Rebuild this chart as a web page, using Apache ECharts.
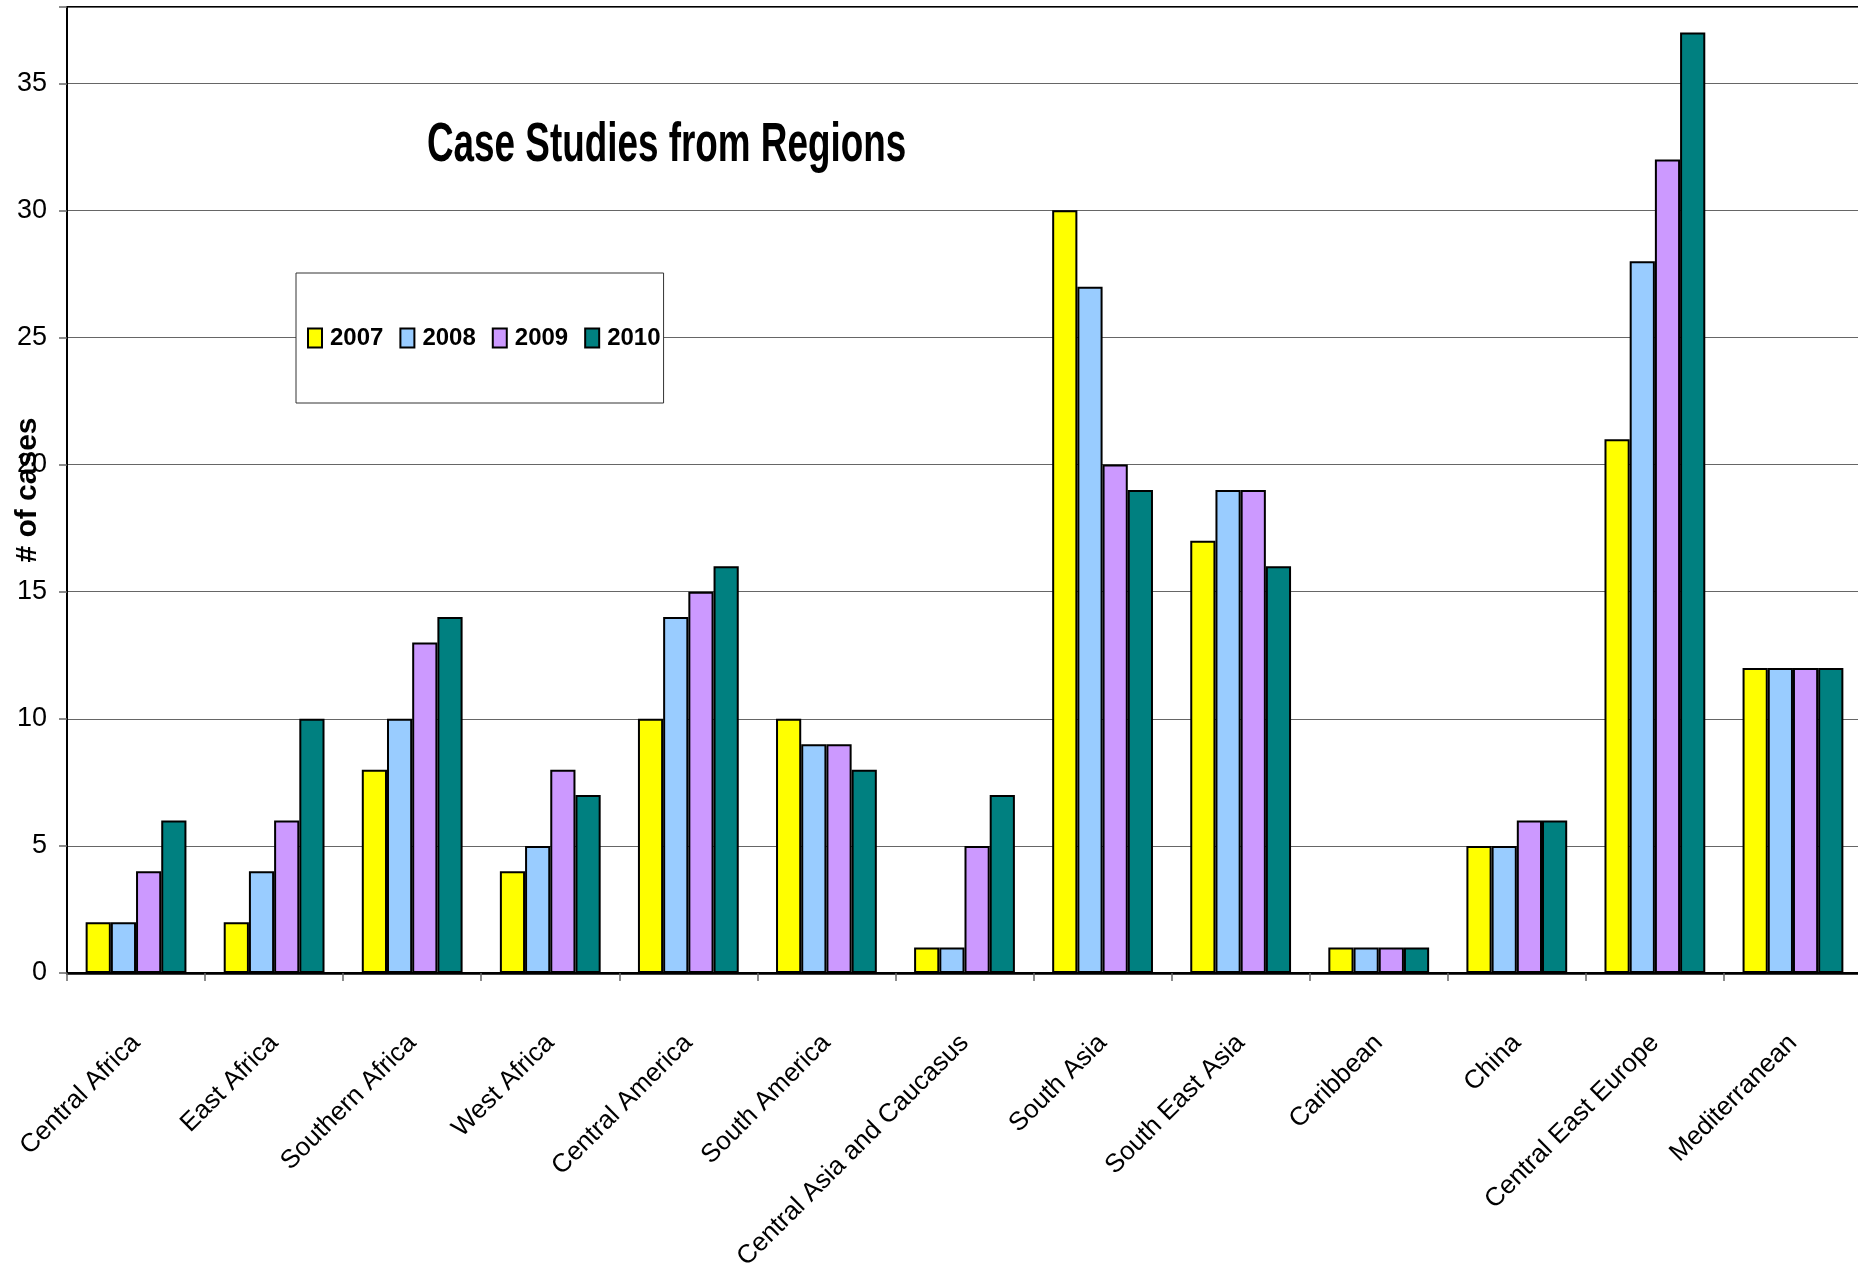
<!DOCTYPE html>
<html>
<head>
<meta charset="utf-8" />
<title>Case Studies from Regions</title>
<script src="https://cdn.jsdelivr.net/npm/echarts@6/dist/echarts.min.js"></script>
<style>
  html,
  body {
    margin: 0;
    padding: 0;
    background: #fff;
  }
  #main {
    width: 1858px;
    height: 1279px;
  }
</style>
</head>
<body>
<div id="main"></div>
<script>
// 数据
const regions = [
  "Central Africa",
  "East Africa",
  "Southern Africa",
  "West Africa",
  "Central America",
  "South America",
  "Central Asia and Caucasus",
  "South Asia",
  "South East Asia",
  "Caribbean",
  "China",
  "Central East Europe",
  "Mediterranean",
];
const years = ["2007", "2008", "2009", "2010"];
const cases2007 = [2, 2, 8, 4, 10, 10, 1, 30, 17, 1, 5, 21, 12];
const cases2008 = [2, 4, 10, 5, 14, 9, 1, 27, 19, 1, 5, 28, 12];
const cases2009 = [4, 6, 13, 8, 15, 9, 5, 20, 19, 1, 6, 32, 12];
const cases2010 = [6, 10, 14, 7, 16, 8, 7, 19, 16, 1, 6, 37, 12];
const yTicks = [0, 5, 10, 15, 20, 25, 30, 35];

const colors = ["#FFFF00", "#99CCFF", "#CC99FF", "#008080"];
const font = "'Liberation Sans', Arial, sans-serif";

const chart = echarts.init(document.getElementById("main"));

const options = {
  animation: false,
  backgroundColor: "#fff",
  // 标题（横向压缩，模仿窄字体）
  graphic: [
    {
      type: "text",
      left: 427,
      top: 118,
      scaleX: 0.67,
      style: {
        text: "Case Studies from Regions",
        fontFamily: font,
        fontWeight: "bold",
        fontSize: 55,
        fill: "#000",
      },
      z: 10,
    },
  ],
  legend: {
    left: 296,
    top: 273,
    orient: "horizontal",
    data: years,
    itemWidth: 14,
    itemHeight: 19,
    itemGap: 16,
    padding: [53, 3, 53, 11],
    backgroundColor: "#fff",
    borderColor: "#333",
    borderWidth: 1,
    borderRadius: 0,
    icon: "rect",
    textStyle: {
      fontFamily: font,
      fontWeight: "bold",
      fontSize: 24,
      color: "#000",
      padding: [0, 0, 0, 3],
    },
  },
  grid: {
    left: 67,
    right: -4,
    top: 7,
    bottom: 306,
    show: true,
    borderColor: "#000",
    borderWidth: 2,
    containLabel: false,
    outerBoundsMode: "none",
  },
  xAxis: {
    type: "category",
    data: regions,
    axisLine: { lineStyle: { color: "#000", width: 2.5 } },
    axisTick: {
      show: true,
      alignWithLabel: false,
      length: 8,
      lineStyle: { color: "#666", width: 1.5 },
    },
    axisLabel: {
      rotate: 45,
      margin: 66,
      interval: 0,
      fontFamily: font,
      fontSize: 26,
      color: "#000",
    },
  },
  yAxis: {
    type: "value",
    min: 0,
    max: 38,
    interval: 5,
    name: "# of cases",
    nameLocation: "middle",
    nameGap: 24,
    nameMoveOverlap: false,
    nameTextStyle: {
      fontFamily: font,
      fontWeight: "bold",
      fontSize: 30,
      color: "#000",
    },
    axisLine: { show: true, lineStyle: { color: "#000", width: 2 } },
    axisTick: { show: true, length: 8, lineStyle: { color: "#666", width: 1.5 } },
    axisLabel: {
      margin: 20,
      fontFamily: font,
      fontSize: 27,
      color: "#000",
      // 只显示刻度值
      formatter: (v) => (yTicks.includes(v) ? String(v) : ""),
    },
    splitLine: { show: true, lineStyle: { color: "#666", width: 1.2 } },
  },
  series: [cases2007, cases2008, cases2009, cases2010].map((data, i) => ({
    name: years[i],
    type: "bar",
    data: data,
    barGap: "0%",
    barCategoryGap: "27%",
    itemStyle: {
      color: colors[i],
      borderColor: "#000",
      borderWidth: 2,
    },
  })),
};

chart.setOption(options);

// 大小自适应
window.addEventListener("resize", () => {
  chart.resize();
});
</script>
</body>
</html>
